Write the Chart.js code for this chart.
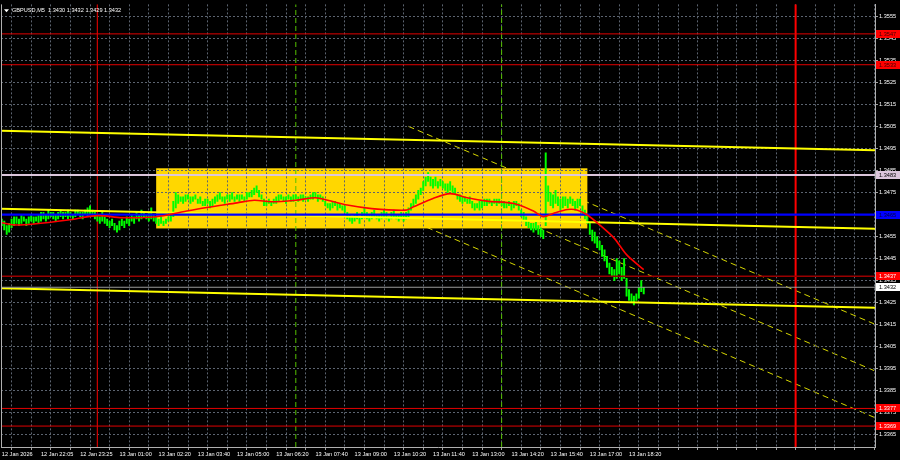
<!DOCTYPE html>
<html>
<head>
<meta charset="utf-8">
<script src="https://cdn.jsdelivr.net/npm/chart.js@4.4.1/dist/chart.umd.min.js"></script>
<style>
  html, body { margin: 0; padding: 0; background: #000; }
</style>
</head>
<body>
<canvas id="myChart" width="900" height="460"></canvas>
<script>
const ctx = document.getElementById("myChart");

// ---- data ----
const chartTitle = "GBPUSD,M5  1.3430 1.3432 1.3429 1.3432";

// one label every 16 bars
const timeLabels = ["12 Jan 2026", "12 Jan 22:05", "12 Jan 23:25", "13 Jan 01:00", "13 Jan 02:20",
  "13 Jan 03:40", "13 Jan 05:00", "13 Jan 06:20", "13 Jan 07:40", "13 Jan 09:00", "13 Jan 10:20",
  "13 Jan 11:40", "13 Jan 13:00", "13 Jan 14:20", "13 Jan 15:40", "13 Jan 17:00", "13 Jan 18:20"];

const priceTicks = [1.3555, 1.3545, 1.3535, 1.3525, 1.3515, 1.3505, 1.3495, 1.3485, 1.3475, 1.3465,
  1.3455, 1.3445, 1.3435, 1.3425, 1.3415, 1.3405, 1.3395, 1.3385, 1.3375, 1.3365];

// M5 bars, low / high
const barLows = [
  1.3460, 1.3458, 1.3456, 1.3457, 1.3459, 1.3460, 1.3461, 1.3460, 1.3461, 1.3462, 1.3460, 1.3461, 1.3462, 1.3461, 1.3462, 1.3461, 1.3462,
  1.3463, 1.3462, 1.3463, 1.3464, 1.3463, 1.3462, 1.3463, 1.3464, 1.3463, 1.3464, 1.3463, 1.3464, 1.3463, 1.3464,
  1.3465, 1.3464, 1.3463, 1.3465, 1.3464, 1.3465, 1.3464, 1.3463,
  1.3462, 1.3461, 1.3462, 1.3461, 1.3460,
  1.3459, 1.3460, 1.3458, 1.3457, 1.3458, 1.3460, 1.3459, 1.3461, 1.3460,
  1.3462, 1.3461, 1.3463, 1.3462, 1.3463, 1.3464, 1.3463, 1.3462, 1.3463, 1.3462, 1.3461,
  1.3460, 1.3461, 1.3460, 1.3461, 1.3462, 1.3462,
  1.3464, 1.3468, 1.3470,
  1.3471, 1.3470, 1.3471, 1.3472, 1.3470, 1.3471, 1.3472, 1.3470, 1.3470,
  1.3469, 1.3469, 1.3470, 1.3468, 1.3469, 1.3470,
  1.3471, 1.3472, 1.3471, 1.3470, 1.3472, 1.3471, 1.3472, 1.3471, 1.3472, 1.3471,
  1.3472, 1.3471, 1.3472, 1.3473,
  1.3473, 1.3474, 1.3475, 1.3473, 1.3472,
  1.3469, 1.3469, 1.3470, 1.3469, 1.3470,
  1.3470, 1.3471, 1.3472, 1.3471, 1.3470, 1.3472, 1.3471,
  1.3471, 1.3472, 1.3471, 1.3472, 1.3471, 1.3472, 1.3471, 1.3472,
  1.3472, 1.3473, 1.3471, 1.3472, 1.3471,
  1.3469, 1.3468, 1.3467, 1.3468, 1.3469, 1.3467, 1.3468, 1.3467, 1.3466,
  1.3463, 1.3462, 1.3461, 1.3462, 1.3463, 1.3461,
  1.3463, 1.3464, 1.3463, 1.3462, 1.3463, 1.3464, 1.3463, 1.3462,
  1.3463, 1.3464, 1.3463, 1.3462, 1.3463, 1.3464, 1.3463, 1.3462, 1.3463,
  1.3462, 1.3463, 1.3464,
  1.3467, 1.3469, 1.3470, 1.3472, 1.3474,
  1.3476, 1.3478, 1.3480, 1.3478,
  1.3477, 1.3478, 1.3477, 1.3478, 1.3477, 1.3476,
  1.3475, 1.3476, 1.3475, 1.3474,
  1.3472, 1.3471, 1.3470, 1.3471, 1.3470, 1.3470,
  1.3468, 1.3467, 1.3468, 1.3467, 1.3468, 1.3469,
  1.3469, 1.3470, 1.3469, 1.3470, 1.3469, 1.3470, 1.3469, 1.3468,
  1.3468, 1.3469, 1.3467, 1.3468, 1.3469, 1.3467,
  1.3464, 1.3462, 1.3460, 1.3459, 1.3458,
  1.3457, 1.3458, 1.3456, 1.3455, 1.3454,
  1.3460,
  1.3471, 1.3469, 1.3468, 1.3470, 1.3469, 1.3467, 1.3468,
  1.3469, 1.3468, 1.3470, 1.3469, 1.3467, 1.3468, 1.3469,
  1.3465, 1.3463, 1.3461,
  1.3456, 1.3453,
  1.3452, 1.3450, 1.3449,
  1.3446, 1.3444,
  1.3441, 1.3438, 1.3437,
  1.3435, 1.3436, 1.3438, 1.3435, 1.3436,
  1.3428, 1.3426, 1.3425,
  1.3424, 1.3426, 1.3427,
  1.3430, 1.3429
];
const barHighs = [
  1.3463, 1.3462, 1.3460, 1.3461, 1.3463, 1.3464, 1.3464, 1.3463, 1.3465, 1.3464, 1.3463, 1.3464, 1.3465, 1.3464, 1.3464, 1.3465, 1.3466,
  1.3466, 1.3465, 1.3467, 1.3466, 1.3466, 1.3465, 1.3466, 1.3467, 1.3466, 1.3466, 1.3467, 1.3466, 1.3465, 1.3467,
  1.3467, 1.3466, 1.3466, 1.3467, 1.3468, 1.3469, 1.3467, 1.3466,
  1.3465, 1.3464, 1.3466, 1.3464, 1.3463,
  1.3462, 1.3463, 1.3461, 1.3460, 1.3462, 1.3463, 1.3462, 1.3464, 1.3463,
  1.3465, 1.3464, 1.3466, 1.3465, 1.3467, 1.3466, 1.3465, 1.3466, 1.3468, 1.3465, 1.3464,
  1.3463, 1.3464, 1.3462, 1.3463, 1.3464, 1.3465,
  1.3471, 1.3475, 1.3474,
  1.3473, 1.3473, 1.3474, 1.3474, 1.3473, 1.3473, 1.3474, 1.3472, 1.3473,
  1.3471, 1.3472, 1.3472, 1.3471, 1.3472, 1.3473,
  1.3474, 1.3475, 1.3473, 1.3473, 1.3474, 1.3474, 1.3475, 1.3473, 1.3474, 1.3474,
  1.3474, 1.3473, 1.3475, 1.3475,
  1.3476, 1.3477, 1.3478, 1.3476, 1.3474,
  1.3472, 1.3471, 1.3472, 1.3471, 1.3472,
  1.3473, 1.3474, 1.3474, 1.3473, 1.3473, 1.3474, 1.3473,
  1.3474, 1.3474, 1.3473, 1.3474, 1.3474, 1.3473, 1.3473, 1.3474,
  1.3475, 1.3475, 1.3474, 1.3474, 1.3473,
  1.3471, 1.3470, 1.3470, 1.3471, 1.3471, 1.3470, 1.3470, 1.3469, 1.3469,
  1.3466, 1.3465, 1.3464, 1.3465, 1.3466, 1.3464,
  1.3466, 1.3468, 1.3466, 1.3465, 1.3466, 1.3467, 1.3465, 1.3465,
  1.3466, 1.3467, 1.3466, 1.3464, 1.3466, 1.3467, 1.3465, 1.3465, 1.3466,
  1.3465, 1.3466, 1.3468,
  1.3470, 1.3472, 1.3474, 1.3476, 1.3477,
  1.3480, 1.3482, 1.3484, 1.3482,
  1.3481, 1.3482, 1.3480, 1.3481, 1.3480, 1.3479,
  1.3479, 1.3480, 1.3478, 1.3477,
  1.3474, 1.3474, 1.3473, 1.3473, 1.3472, 1.3473,
  1.3471, 1.3470, 1.3470, 1.3471, 1.3471, 1.3472,
  1.3472, 1.3472, 1.3471, 1.3472, 1.3472, 1.3472, 1.3471, 1.3471,
  1.3470, 1.3471, 1.3470, 1.3471, 1.3471, 1.3470,
  1.3467, 1.3466, 1.3464, 1.3462, 1.3461,
  1.3461, 1.3462, 1.3460, 1.3459, 1.3458,
  1.3493,
  1.3478, 1.3475, 1.3474, 1.3476, 1.3473, 1.3472, 1.3473,
  1.3473, 1.3472, 1.3473, 1.3472, 1.3471, 1.3472, 1.3472,
  1.3469, 1.3467, 1.3465,
  1.3461, 1.3458,
  1.3457, 1.3455, 1.3453,
  1.3451, 1.3449,
  1.3446, 1.3443, 1.3441,
  1.3440, 1.3445, 1.3444, 1.3441, 1.3445,
  1.3436, 1.3431, 1.3429,
  1.3428, 1.3429, 1.3432,
  1.3435, 1.3432
];

// red moving average, sampled at these bars
const maIndex = [0, 5, 13, 27, 39, 49, 63, 74, 83, 96, 103, 110, 120, 128, 133, 141, 151, 165, 168,
  176, 183, 190, 198, 209, 217, 221, 225, 231, 235, 239, 244, 250, 255, 262];
const maValues = [1.34613, 1.34603, 1.34607, 1.34625, 1.34645, 1.34636, 1.34640, 1.34663, 1.34681,
  1.34703, 1.34715, 1.34708, 1.34715, 1.34726, 1.34715, 1.34693, 1.34677, 1.34670, 1.34685, 1.34723,
  1.34745, 1.34726, 1.34711, 1.34700, 1.34666, 1.34640, 1.34655, 1.34673, 1.34670, 1.34648, 1.34603,
  1.34542, 1.34468, 1.34400];

const redLevels = [1.3547, 1.3533, 1.3377, 1.3369];
const supportLevel = 1.3437;
const rangeTopLevel = 1.3483;
const pivotLevel = 1.3465;
const bidPrice = 1.3432;

// sloping trend lines: price at left edge, price at right edge
const trendUpper = [1.35030, 1.34942];
const trendMiddle = [1.34676, 1.34586];
const trendLower = [1.34316, 1.34227];

// descending channel (dashed), from bar 166 to the right edge
const channelIndex = [166, 356];
const channelUpper = [1.35050, 1.34154];
const channelMiddle = [1.34839, 1.33942];
const channelLower = [1.34627, 1.33730];

// range box
const boxIndex = [63, 239];
const boxPrices = [1.34860, 1.34587];

const daySeparators = [39, 324];
const sessionMarks = [120, 204];

// ---- chart ----
const X_MIN = -0.33, X_MAX = 356.4;
const Y_MIN = 1.33595, Y_MAX = 1.35604;
const FONT = { family: "Liberation Sans", size: 5.6 };
const GRID = "#5c6470";

function span(prices, color, width, order, dash) {
  return {
    type: "line",
    data: [{ x: X_MIN, y: prices[0] }, { x: X_MAX, y: prices[1] }],
    borderColor: color, borderWidth: width, borderDash: dash || [],
    pointRadius: 0, fill: false, order: order
  };
}
function vertical(idx, color, width, order, dash) {
  return {
    type: "line",
    data: [{ x: idx, y: Y_MIN }, { x: idx, y: Y_MAX }],
    borderColor: color, borderWidth: width, borderDash: dash || [],
    pointRadius: 0, fill: false, order: order
  };
}

const backdrop = {
  id: "backdrop",
  beforeDraw(chart) {
    const { ctx: c, chartArea: a, scales: { x, y } } = chart;
    c.save();
    c.beginPath();
    c.rect(a.left, a.top, a.right - a.left, a.bottom - a.top);
    c.clip();
    c.strokeStyle = "#d6d600";
    c.lineWidth = 1;
    c.setLineDash([6, 4]);
    [channelUpper, channelMiddle, channelLower].forEach(p => {
      c.beginPath();
      c.moveTo(x.getPixelForValue(channelIndex[0]), y.getPixelForValue(p[0]));
      c.lineTo(x.getPixelForValue(channelIndex[1]), y.getPixelForValue(p[1]));
      c.stroke();
    });
    c.setLineDash([]);
    const x0 = x.getPixelForValue(boxIndex[0]), x1 = x.getPixelForValue(boxIndex[1]);
    const y0 = y.getPixelForValue(boxPrices[0]), y1 = y.getPixelForValue(boxPrices[1]);
    c.fillStyle = "#ffd700";
    c.fillRect(x0, y0, x1 - x0, y1 - y0);
    c.restore();
  }
};

const overlay = {
  id: "overlay",
  afterDraw(chart) {
    const { ctx: c, chartArea: a, scales: { y } } = chart;
    c.save();
    // left frame
    c.strokeStyle = "#b0b0b0";
    c.lineWidth = 1;
    c.beginPath();
    c.moveTo(a.left + 0.5, a.top);
    c.lineTo(a.left + 0.5, a.bottom);
    c.stroke();

    // price tags on the right scale
    const tags = [
      [redLevels[0], "#ff0000", "#400000"],
      [redLevels[1], "#ff0000", "#400000"],
      [rangeTopLevel, "#dcc6dc", "#000000"],
      [pivotLevel, "#0000ff", "#000040"],
      [supportLevel, "#ff0000", "#ffffff"],
      [bidPrice, "#ffffff", "#000000"],
      [redLevels[2], "#ff0000", "#ffffff"],
      [redLevels[3], "#ff0000", "#ffffff"]
    ];
    c.font = FONT.size + "px " + FONT.family;
    c.textBaseline = "middle";
    tags.forEach(([p, bg, fg]) => {
      const py = Math.round(y.getPixelForValue(p));
      c.fillStyle = bg;
      c.fillRect(a.right + 1, py - 4, 24, 8);
      c.fillStyle = fg;
      c.fillText(p.toFixed(4), a.right + 4, py + 0.5);
    });

    // symbol caption
    c.fillStyle = "#ffffff";
    c.beginPath();
    c.moveTo(a.left + 3, a.top + 5);
    c.lineTo(a.left + 8, a.top + 5);
    c.lineTo(a.left + 5.5, a.top + 8);
    c.closePath();
    c.fill();
    c.fillText(chartTitle, a.left + 11, a.top + 6.5);
    c.restore();
  }
};

new Chart(ctx, {
  type: "bar",
  data: {
    datasets: [
      {
        label: "bars",
        data: barLows.map((lo, i) => ({ x: i, y: [lo, barHighs[i]] })),
        backgroundColor: "#00ff00",
        borderWidth: 0,
        barThickness: 1.3,
        order: 10
      },
      vertical(daySeparators[0], "#d00000", 1.2, 11),
      vertical(daySeparators[1], "#ff0000", 2, 11),
      vertical(sessionMarks[0], "#55c000", 1, 11, [5, 3]),
      vertical(sessionMarks[1], "#55c000", 1, 11, [5, 3]),
      span(trendUpper, "#ffff00", 2, 6),
      span(trendMiddle, "#ffff00", 2, 6),
      span(trendLower, "#ffff00", 2, 6),
      ...redLevels.map(p => span([p, p], "#e00000", 1, 5)),
      span([supportLevel, supportLevel], "#990000", 1.6, 5),
      span([bidPrice, bidPrice], "#9a9a9a", 1, 5),
      span([rangeTopLevel, rangeTopLevel], "#dcc6dc", 2, 5),
      span([pivotLevel, pivotLevel], "#0000ff", 2.3, 4),
      {
        type: "line",
        label: "MA",
        data: maIndex.map((ix, i) => ({ x: ix, y: maValues[i] })),
        borderColor: "#ff0000",
        borderWidth: 1.6,
        pointRadius: 0,
        tension: 0.3,
        fill: false,
        order: 2
      }
    ]
  },
  options: {
    responsive: false,
    animation: false,
    devicePixelRatio: 1,
    layout: { padding: { left: 1, top: 1, right: 0, bottom: 0 } },
    plugins: { legend: { display: false }, tooltip: { enabled: false } },
    scales: {
      x: {
        type: "linear",
        min: X_MIN,
        max: X_MAX,
        offset: false,
        afterBuildTicks: s => {
          s.ticks = [];
          for (let v = 0; v <= X_MAX; v += 8) s.ticks.push({ value: v });
        },
        afterFit: s => { s.height = 13; },
        grid: { color: GRID, drawTicks: true, tickLength: 3, tickColor: "#a0a0a0" },
        border: { display: true, color: "#b0b0b0", width: 1, dash: [2, 2] },
        ticks: {
          autoSkip: false,
          maxRotation: 0,
          align: "start",
          padding: 1,
          color: "#ffffff",
          font: FONT,
          callback: v => (v % 16 === 0 && timeLabels[v / 16]) ? timeLabels[v / 16] : ""
        }
      },
      y: {
        type: "linear",
        position: "right",
        min: Y_MIN,
        max: Y_MAX,
        afterBuildTicks: s => { s.ticks = priceTicks.map(v => ({ value: v })); },
        afterFit: s => { s.width = 25; },
        grid: { color: GRID, drawTicks: true, tickLength: 3, tickColor: "#a0a0a0" },
        border: { display: true, color: "#b0b0b0", width: 1, dash: [2, 2] },
        ticks: {
          autoSkip: false,
          padding: 1,
          color: "#ffffff",
          font: FONT,
          callback: v => v.toFixed(4)
        }
      }
    }
  },
  plugins: [backdrop, overlay]
});
</script>
</body>
</html>
